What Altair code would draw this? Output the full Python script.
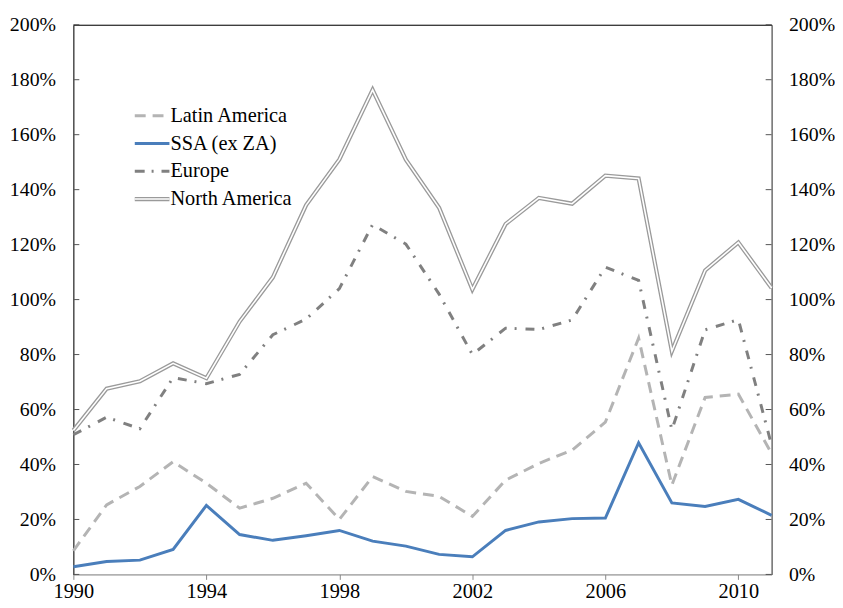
import altair as alt
import pandas as pd

years = list(range(1990, 2012))
latin_america = [8.6, 25.3, 32.0, 41.0, 33.2, 24.1, 27.7, 33.2, 20.0, 35.6, 30.2,
                 28.4, 21.1, 34.3, 40.4, 45.2, 55.4, 86.0, 32.5, 64.4, 65.6, 44.0]
ssa_ex_za = [2.8, 4.7, 5.2, 9.1, 25.1, 14.5, 12.4, 14.1, 16.0, 12.1, 10.3,
             7.3, 6.4, 16.0, 19.1, 20.3, 20.5, 47.9, 26.0, 24.7, 27.3, 21.5]
europe = [50.8, 57.2, 53.0, 71.6, 69.4, 72.8, 87.2, 92.9, 104.0, 127.3, 120.2,
          102.0, 80.0, 89.6, 89.1, 92.6, 111.8, 107.0, 52.6, 89.0, 92.7, 47.0]
north_america = [52.4, 67.6, 70.3, 76.8, 71.4, 92.0, 108.1, 134.4, 151.0, 176.3, 150.9,
                 133.4, 103.7, 127.5, 137.0, 134.9, 145.1, 144.1, 81.2, 110.6, 120.8, 104.2]

series_names = ["Latin America", "SSA (ex ZA)", "Europe", "North America"]
series_values = [latin_america, ssa_ex_za, europe, north_america]
x_ticks = [1990, 1994, 1998, 2002, 2006, 2010]
y_ticks = [0, 20, 40, 60, 80, 100, 120, 140, 160, 180, 200]

rows = []
for name, vals in zip(series_names, series_values):
    for yr, v in zip(years, vals):
        rows.append({"series": name, "year": yr, "value": v})
df = pd.DataFrame(rows)
ticks_df = pd.DataFrame({"value": y_ticks})
legend_df = pd.DataFrame({"name": series_names})

W, H = 705, 555
FONT = "Liberation Serif"
FS_Y = 20
FS_X = 20.5
FS_L = 20.5

xscale = alt.Scale(domain=[1990, 2011], nice=False, zero=False)
yscale = alt.Scale(domain=[0, 200], nice=False)

x_axis = alt.Axis(values=x_ticks, format="d", title=None, grid=False,
                  domainColor="#888888", tickColor="#888888", tickSize=5,
                  labelPadding=2, labelFont=FONT, labelFontSize=FS_X,
                  labelColor="black", orient="bottom", labelFlush=False)
y_axis_left = alt.Axis(values=y_ticks, labelExpr="datum.value + '%'", title=None,
                       grid=False, ticks=False, domainColor="#000000",
                       labelPadding=18, labelFont=FONT, labelFontSize=FS_Y,
                       labelColor="black", orient="left")
y_axis_right = alt.Axis(values=y_ticks, labelExpr="datum.value + '%'", title=None,
                        grid=False, ticks=False, domainColor="#333333",
                        labelPadding=17, labelFont=FONT, labelFontSize=FS_Y,
                        labelColor="black", orient="right", labelAlign="left")
x_axis_top = alt.Axis(title=None, grid=False, ticks=False, labels=False,
                      domainColor="#000000", orient="top")

def sel(name):
    return alt.Chart(df).transform_filter(alt.datum.series == name)

enc_plain = dict(
    x=alt.X("year:Q", scale=xscale, axis=None),
    y=alt.Y("value:Q", scale=yscale, axis=None),
)

na_outer = sel("North America").mark_line(color="#9a9a9a", strokeWidth=4.2).encode(
    x=alt.X("year:Q", scale=xscale, axis=x_axis),
    y=alt.Y("value:Q", scale=yscale, axis=y_axis_left),
)
na_inner = sel("North America").mark_line(color="white", strokeWidth=1.6).encode(**enc_plain)
eu_line = sel("Europe").mark_line(color="#808080", strokeWidth=3,
                                  strokeDash=[9, 8, 2, 9]).encode(**enc_plain)
la_line = sel("Latin America").mark_line(color="#b4b4b4", strokeWidth=3,
                                         strokeDash=[11, 7]).encode(**enc_plain)
ssa_line = sel("SSA (ex ZA)").mark_line(color="#4a7ebb", strokeWidth=3).encode(**enc_plain)

left_ticks = alt.Chart(ticks_df).mark_rule(color="#555555", strokeWidth=1).encode(
    y=alt.Y("value:Q", scale=yscale, axis=None),
    x=alt.value(0), x2=alt.value(6),
)
right_ticks = alt.Chart(ticks_df).mark_rule(color="#555555", strokeWidth=1).encode(
    y=alt.Y("value:Q", scale=yscale, axis=y_axis_right),
    x=alt.value(W - 6), x2=alt.value(W),
)
top_frame = alt.Chart(pd.DataFrame({"year": [1990]})).mark_point(opacity=0).encode(
    x=alt.X("year:Q", scale=xscale, axis=x_axis_top),
)

# legend (manual)
LX1, LX2, LTX = 62, 97, 98
LY = [92, 120, 148, 176]
styles = [
    dict(color="#b4b4b4", strokeWidth=3, strokeDash=[11, 7]),
    dict(color="#4a7ebb", strokeWidth=3),
    dict(color="#808080", strokeWidth=3, strokeDash=[10, 7, 2, 8]),
    dict(color="#9a9a9a", strokeWidth=4.2),
]
legend_layers = []
for i, name in enumerate(series_names):
    src = alt.Chart(legend_df).transform_filter(alt.datum.name == name)
    legend_layers.append(src.mark_rule(**styles[i]).encode(
        x=alt.value(LX1), x2=alt.value(LX2), y=alt.value(LY[i])))
    if name == "North America":
        legend_layers.append(src.mark_rule(color="white", strokeWidth=1.6).encode(
            x=alt.value(LX1), x2=alt.value(LX2), y=alt.value(LY[i])))
    legend_layers.append(src.mark_text(align="left", baseline="middle", font=FONT,
                                       fontSize=FS_L, color="black").encode(
        x=alt.value(LTX), y=alt.value(LY[i]), text="name:N"))

chart = alt.layer(
    na_outer, na_inner, eu_line, la_line, ssa_line,
    left_ticks, right_ticks, top_frame, *legend_layers
).resolve_axis(y="independent", x="independent").properties(
    width=W, height=H,
    autosize=alt.AutoSizeParams(type="none"),
    padding={"left": 66, "top": 14, "right": 64, "bottom": 31},
).configure_view(stroke=None).configure(background="white")

chart.save("out.html", embed_options={"renderer": "svg", "actions": False})
